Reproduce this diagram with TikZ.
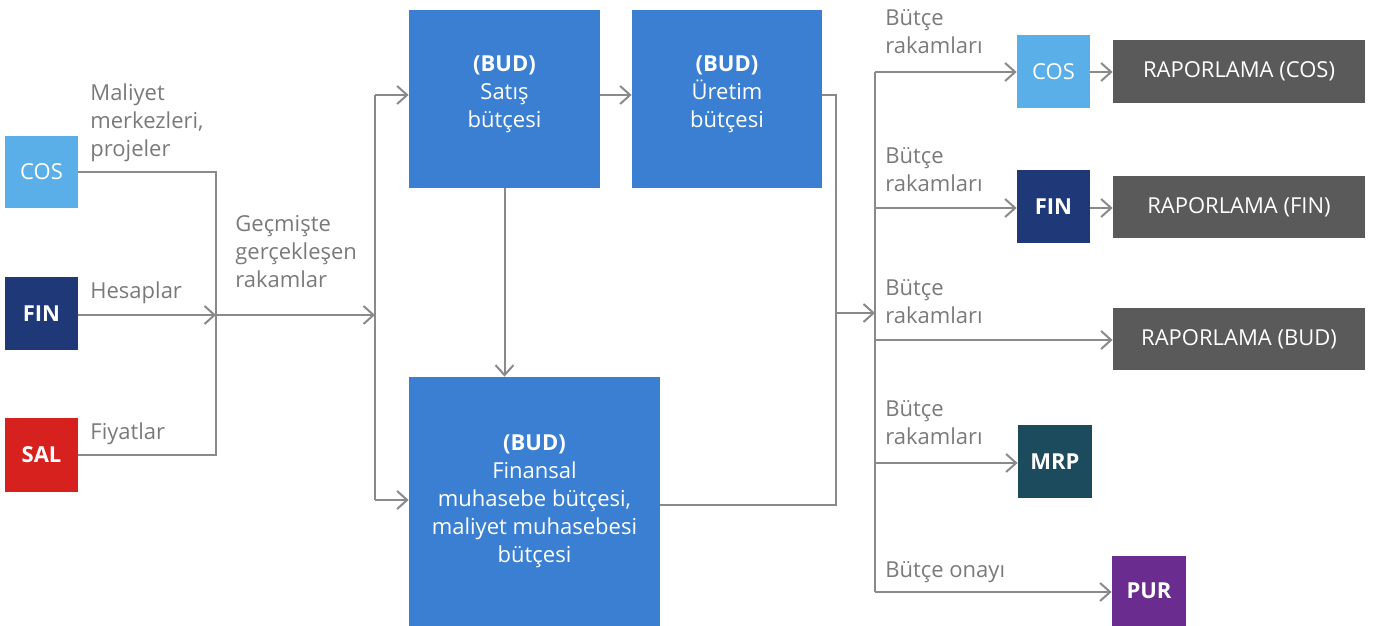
\documentclass[tikz,border=0pt]{standalone}
\usepackage{fontspec}
\setmainfont{Open Sans}
\usetikzlibrary{arrows.meta}
\definecolor{cosblue}{HTML}{5AAFE8}
\definecolor{finnavy}{HTML}{1F3978}
\definecolor{salred}{HTML}{D7211F}
\definecolor{budblue}{HTML}{3B7FD2}
\definecolor{rapgray}{HTML}{5A5A5A}
\definecolor{mrpteal}{HTML}{1D4B5E}
\definecolor{purpur}{HTML}{6A2C8E}
\definecolor{linegray}{HTML}{8A8A8A}
\definecolor{labgray}{HTML}{7A7A7A}
\tikzset{
  box/.style={fill=#1, text=white, inner sep=0pt, align=center, font=\fontsize{11}{14}\selectfont},
  lab/.style={text=labgray, anchor=north west, align=left, inner sep=0pt, font=\fontsize{11}{14}\selectfont},
  conn/.style={draw=linegray, line width=1pt},
  arr/.style={conn, -{Straight Barb[length=5pt,width=9pt,line width=1pt]}},
}
\begin{document}
\begin{tikzpicture}[x=0.5pt,y=-0.5pt]
\useasboundingbox (0,0) rectangle (1373,626);
% left source boxes
\node[box=cosblue, minimum width=36.5pt, minimum height=36pt] (cosL) at (41.5,172) {COS};
\node[box=finnavy, minimum width=36.5pt, minimum height=36.5pt, font=\bfseries\fontsize{11}{14}\selectfont] (finL) at (41.5,313.5) {FIN};
\node[box=salred, minimum width=36.5pt, minimum height=37pt, font=\bfseries\fontsize{11}{14}\selectfont] (salL) at (41.5,455) {SAL};
% budget boxes
\node[box=budblue, minimum width=95.5pt, minimum height=89pt] (sat) at (504.5,99) {\textbf{(BUD)}\\Satış\\bütçesi\\[-7pt]};
\node[box=budblue, minimum width=95pt, minimum height=89pt] (ure) at (727,99) {\textbf{(BUD)}\\Üretim\\bütçesi\\[-7pt]};
\node[box=budblue, minimum width=125.5pt, minimum height=124.5pt] (fin) at (534.5,501.5) {\textbf{(BUD)}\\Finansal\\muhasebe bütçesi,\\maliyet muhasebesi\\bütçesi};
% right targets
\node[box=cosblue, minimum width=36.5pt, minimum height=36.5pt] (cosR) at (1053.5,72) {COS};
\node[box=finnavy, minimum width=36.5pt, minimum height=36.5pt, font=\bfseries\fontsize{11}{14}\selectfont] (finR) at (1053.5,206.5) {FIN};
\node[box=mrpteal, minimum width=37pt, minimum height=36.5pt, font=\bfseries\fontsize{11}{14}\selectfont] (mrp) at (1055,461.5) {MRP};
\node[box=purpur, minimum width=37pt, minimum height=35pt, font=\bfseries\fontsize{11}{14}\selectfont] (pur) at (1149,591) {PUR};
\node[box=rapgray, minimum width=126pt, minimum height=31.5pt] (rcos) at (1239,71.5) {RAPORLAMA (COS)};
\node[box=rapgray, minimum width=126pt, minimum height=31pt] (rfin) at (1239,207) {RAPORLAMA (FIN)};
\node[box=rapgray, minimum width=126pt, minimum height=31pt] (rbud) at (1239,339) {RAPORLAMA (BUD)};
% junction coordinates
\coordinate (j1) at (216,315);
\coordinate (j2) at (375,315);
\coordinate (j3) at (836,313);
\coordinate (j4) at (875,313);
% left merge
\draw[conn] (cosL.east |- 0,172) -| (j1);
\draw[conn] (salL.east |- 0,455) -| (j1);
\draw[arr] (finL.east |- j1) -- (j1);
\draw[arr] (j1) -- (j2);
\draw[conn] (375,95) -- (375,500);
\draw[arr] (375,95) -- (sat.west |- 0,95);
\draw[arr] (375,500) -- (fin.west |- 0,500);
% budget flows
\draw[arr] (sat.east |- 0,95) -- (ure.west |- 0,95);
\draw[arr] (sat.south) -- (fin.north -| sat.south);
\draw[conn] (ure.east |- 0,95) -| (j3);
\draw[conn] (fin.east |- 0,505) -| (j3);
\draw[arr] (j3) -- (j4);
% right distribution
\draw[conn] (875,72) -- (875,592);
\draw[arr] (875,72) -- (cosR.west |- 0,72);
\draw[arr] (875,208) -- (finR.west |- 0,208);
\draw[arr] (875,340) -- (rbud.west |- 0,340);
\draw[arr] (875,463) -- (mrp.west |- 0,463);
\draw[arr] (875,592) -- (pur.west |- 0,592);
\draw[arr] (cosR.east |- 0,72) -- (rcos.west |- 0,72);
\draw[arr] (finR.east |- 0,208) -- (rfin.west |- 0,208);
% labels
\node[lab] (l1) at (90,83) {Maliyet\\merkezleri,\\projeler};
\node[lab] (l2) at (90,281) {Hesaplar};
\node[lab] (l3) at (90,422) {Fiyatlar};
\node[lab] (l4) at (235,215) {Geçmişte\\gerçekleşen\\rakamlar};
\node[lab] (l5) at (885,9) {Bütçe\\rakamları};
\node[lab] (l6) at (885,147) {Bütçe\\rakamları};
\node[lab] (l7) at (885,279) {Bütçe\\rakamları};
\node[lab] (l8) at (885,400) {Bütçe\\rakamları};
\node[lab] (l9) at (885,561) {Bütçe onayı};
\end{tikzpicture}
\end{document}
